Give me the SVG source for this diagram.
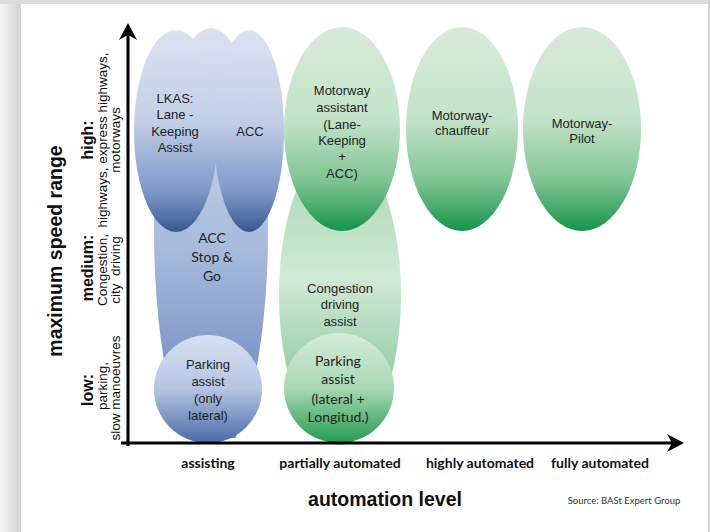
<svg xmlns="http://www.w3.org/2000/svg" width="710" height="532" viewBox="0 0 710 532">
<defs>
<linearGradient id="gBlue" x1="0" y1="0" x2="0" y2="1">
<stop offset="0" stop-color="#dbe2f1"/><stop offset="0.45" stop-color="#c2cfe7"/><stop offset="0.8" stop-color="#7d98c8"/><stop offset="1" stop-color="#38598f"/>
</linearGradient>
<linearGradient id="gBlueTall" gradientUnits="userSpaceOnUse" x1="0" y1="120" x2="0" y2="440">
<stop offset="0" stop-color="#c6d3ea"/><stop offset="0.4" stop-color="#a8bbdd"/><stop offset="1" stop-color="#5f7fb6"/>
</linearGradient>
<linearGradient id="gBluePark" x1="0" y1="0" x2="0" y2="1">
<stop offset="0" stop-color="#d8e0f0"/><stop offset="0.5" stop-color="#b4c4e2"/><stop offset="1" stop-color="#4a6ca6"/>
</linearGradient>
<linearGradient id="gGreen" x1="0" y1="0" x2="0" y2="1">
<stop offset="0" stop-color="#d8ebd8"/><stop offset="0.45" stop-color="#c3e3c8"/><stop offset="0.75" stop-color="#80c594"/><stop offset="1" stop-color="#16944a"/>
</linearGradient>
<linearGradient id="gGreenTall" x1="0" y1="0" x2="0" y2="1">
<stop offset="0" stop-color="#a8d6b2"/><stop offset="0.45" stop-color="#d0e9d4"/><stop offset="1" stop-color="#6dbb86"/>
</linearGradient>
<linearGradient id="gGreenPark" x1="0" y1="0" x2="0" y2="1">
<stop offset="0" stop-color="#d6ecd8"/><stop offset="0.5" stop-color="#a9d8b4"/><stop offset="1" stop-color="#259c50"/>
</linearGradient>
<linearGradient id="gShadowL" x1="0" y1="0" x2="1" y2="0">
<stop offset="0" stop-color="#f6f6f6"/><stop offset="1" stop-color="#d2d2d2"/>
</linearGradient>
<clipPath id="clipTall"><rect x="140" y="120" width="140" height="318"/></clipPath>
</defs>
<style>
.lbl{font-family:"Liberation Sans",Arial,sans-serif;font-size:13px;fill:#1e1e1e;text-anchor:middle}
.cal{font-family:Lato,"Open Sans",sans-serif;font-size:14px;fill:#1e1e1e;text-anchor:middle}
.xl{font-family:Lato,"Open Sans",sans-serif;font-size:14px;font-weight:bold;fill:#111;text-anchor:middle}
.ttl{font-family:"Liberation Sans",Arial,sans-serif;font-size:19.5px;font-weight:bold;fill:#111;text-anchor:middle}
.yb{font-family:"Liberation Sans",Arial,sans-serif;font-size:16px;font-weight:bold;fill:#111;text-anchor:middle}
.yr{font-family:"Liberation Sans",Arial,sans-serif;font-size:13.5px;fill:#111;text-anchor:middle}
.src{font-family:Lato,"Open Sans",sans-serif;font-size:9.5px;fill:#333;text-anchor:middle}
.ax{stroke:#000;stroke-width:3;fill:none}
</style>
<rect x="0" y="0" width="710" height="532" fill="#ffffff"/>
<rect x="0" y="0" width="21" height="532" fill="url(#gShadowL)"/>
<rect x="0" y="0" width="710" height="4" fill="#dcdcdc"/>
<rect x="708" y="0" width="2" height="532" fill="#d6d6d6"/>

<g id="acc-stop-go">
<ellipse cx="211" cy="131" rx="40" ry="103" fill="url(#gBlue)"/>
<ellipse cx="211" cy="230" rx="57" ry="230" fill="url(#gBlueTall)" clip-path="url(#clipTall)"/>
<text class="cal" x="212" y="243">ACC</text>
<text class="cal" x="212" y="262">Stop &amp;</text>
<text class="cal" x="212" y="281">Go</text>
</g>
<g id="lkas">
<ellipse cx="176" cy="131" rx="42" ry="101" fill="url(#gBlue)"/>
<text class="lbl" x="175" y="103">LKAS:</text>
<text class="lbl" x="175" y="119">Lane -</text>
<text class="lbl" x="175" y="136">Keeping</text>
<text class="lbl" x="175" y="152">Assist</text>
</g>
<g id="acc">
<ellipse cx="249" cy="131" rx="35" ry="101" fill="url(#gBlue)"/>
<text class="lbl" x="250" y="136">ACC</text>
</g>
<g id="parking-lateral">
<ellipse cx="208" cy="389" rx="54" ry="54" fill="url(#gBluePark)"/>
<text class="lbl" x="208" y="369">Parking</text>
<text class="lbl" x="208" y="386">assist</text>
<text class="lbl" x="208" y="403">(only</text>
<text class="lbl" x="208" y="420">lateral)</text>
</g>

<g id="congestion">
<ellipse cx="340" cy="295" rx="61" ry="150" fill="url(#gGreenTall)"/>
<text class="lbl" x="340" y="293">Congestion</text>
<text class="lbl" x="340" y="309">driving</text>
<text class="lbl" x="340" y="326">assist</text>
</g>
<g id="motorway-assistant">
<ellipse cx="342" cy="129" rx="58" ry="102" fill="url(#gGreen)"/>
<text class="lbl" x="342" y="95">Motorway</text>
<text class="lbl" x="342" y="112">assistant</text>
<text class="lbl" x="342" y="129">(Lane-</text>
<text class="lbl" x="342" y="145">Keeping</text>
<text class="lbl" x="342" y="161">+</text>
<text class="lbl" x="342" y="178">ACC)</text>
</g>
<g id="parking-longitudinal">
<ellipse cx="339" cy="388" rx="55" ry="55" fill="url(#gGreenPark)"/>
<text class="cal" x="338" y="366">Parking</text>
<text class="cal" x="338" y="384">assist</text>
<text class="cal" x="338" y="404">(lateral +</text>
<text class="cal" x="338" y="422">Longitud.)</text>
</g>
<g id="motorway-chauffeur">
<ellipse cx="462" cy="129" rx="56" ry="102" fill="url(#gGreen)"/>
<text class="lbl" x="462" y="120">Motorway-</text>
<text class="lbl" x="462" y="135">chauffeur</text>
</g>
<g id="motorway-pilot">
<ellipse cx="582" cy="129" rx="59" ry="102" fill="url(#gGreen)"/>
<text class="lbl" x="582" y="128">Motorway-</text>
<text class="lbl" x="582" y="143">Pilot</text>
</g>

<g id="connectors">
<line class="ax" x1="128" y1="446" x2="128" y2="34"/>
<path d="M128,23 L119,40 L128,35 L137,40 Z" fill="#000"/>
<line class="ax" x1="121" y1="443" x2="672" y2="443"/>
<path d="M684,443 L667,434 L672,443 L667,452 Z" fill="#000"/>
</g>

<g id="x-labels">
<text class="xl" x="208" y="468">assisting</text>
<text class="xl" x="340" y="468">partially automated</text>
<text class="xl" x="480" y="468">highly automated</text>
<text class="xl" x="600" y="468">fully automated</text>
<text class="ttl" x="385" y="506">automation level</text>
<text class="src" x="624" y="504">Source: BASt Expert Group</text>
</g>

<g id="y-labels">
<text class="ttl" transform="translate(62,251) rotate(-90)">maximum speed range</text>
<text class="yb" transform="translate(93,140) rotate(-90)">high:</text>
<text class="yr" transform="translate(107,140) rotate(-90)">highways, express highways,</text>
<text class="yr" transform="translate(120,140) rotate(-90)">motorways</text>
<text class="yb" transform="translate(93,268) rotate(-90)">medium:</text>
<text class="yr" transform="translate(107,270) rotate(-90)">Congestion,</text>
<text class="yr" transform="translate(120,270) rotate(-90)" xml:space="preserve">city  driving</text>
<text class="yb" transform="translate(93,390) rotate(-90)">low:</text>
<text class="yr" transform="translate(107,386) rotate(-90)">parking,</text>
<text class="yr" transform="translate(120,388) rotate(-90)">slow manoeuvres</text>
</g>
</svg>
